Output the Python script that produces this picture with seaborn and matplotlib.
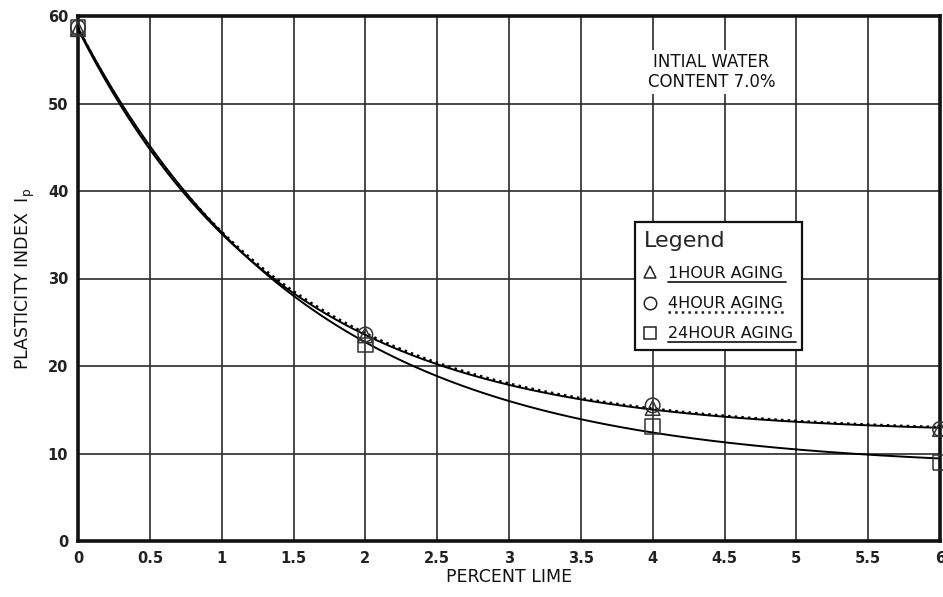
import numpy as np
import pandas as pd
import matplotlib
matplotlib.use("Agg")
import matplotlib.pyplot as plt
from matplotlib.lines import Line2D
import seaborn as sns

# ---- data ----
lime = [0, 2, 4, 6]
pi_1h = [58.5, 23.5, 15.2, 12.8]
pi_4h = [58.7, 23.6, 15.5, 12.8]
pi_24h = [58.7, 22.4, 13.1, 9.0]
series_names = ["1HOUR AGING", "4HOUR AGING", "24HOUR AGING"]
x_ticks = [0, 0.5, 1, 1.5, 2, 2.5, 3, 3.5, 4, 4.5, 5, 5.5, 6]
x_tick_labels = ["0", "0.5", "1", "1.5", "2", "2.5", "3", "3.5", "4", "4.5", "5", "5.5", "6"]
y_ticks = [0, 10, 20, 30, 40, 50, 60]

sns.set_style("white")
plt.rcParams['font.family'] = ['DejaVu Sans']

fig = plt.figure(figsize=(9.43, 5.97), dpi=100)
ax = fig.add_axes([78/943, 1-541/597, (940-78)/943, (541-16)/597])


def fit_decay(x, y):
    x = np.asarray(x, float); y = np.asarray(y, float)
    best = None
    for k in np.linspace(0.1, 2.0, 400):
        e = np.exp(-k * x)
        A = np.vstack([np.ones_like(e), e]).T
        coef, *_ = np.linalg.lstsq(A, y, rcond=None)
        r = np.sum((A @ coef - y) ** 2)
        if best is None or r < best[0]:
            best = (r, k, coef)
    _, k, (c, b) = best
    return lambda t: c + b * np.exp(-k * t)

xs = np.linspace(0, 6, 300)
styles = [("-", 1.4), (":", 1.8), ("-", 1.4)]
markers = ["^", "o", "s"]
datas = [pi_1h, pi_4h, pi_24h]

for name, d, (ls, lw) in zip(series_names, datas, styles):
    f = fit_decay(lime, d)
    df = pd.DataFrame({"x": xs, "y": f(xs)})
    sns.lineplot(data=df, x="x", y="y", ax=ax, color="black", linestyle=ls, linewidth=lw, zorder=3)

for name, d, m in zip(series_names, datas, markers):
    df = pd.DataFrame({"x": lime, "y": d})
    sns.scatterplot(data=df, x="x", y="y", ax=ax, marker=m, s=110, facecolor="none",
                    edgecolor="#333333", linewidth=1.1, zorder=4, clip_on=False)

ax.set_xlim(0, 6)
ax.set_ylim(0, 60)
ax.set_xticks(x_ticks)
ax.set_xticklabels(x_tick_labels, fontsize=10.5, fontweight="bold", color="#222222")
ax.set_yticks(y_ticks)
ax.set_yticklabels([str(v) for v in y_ticks], fontsize=10.5, fontweight="bold", color="#222222")
ax.tick_params(axis="both", direction="out", length=5, width=1.2, color="#222222", pad=2)
ax.grid(True, color="#2a2a2a", linewidth=1.2)
ax.set_axisbelow(True)
for sp in ax.spines.values():
    sp.set_linewidth(2.6)
    sp.set_color("#111111")

ax.set_xlabel("PERCENT LIME", fontsize=12.5, labelpad=2, color="#111111")
ax.set_ylabel("PLASTICITY INDEX  I$_\\mathregular{p}$", fontsize=12.5, labelpad=8, color="#111111")

ax.text(4.41, 53.6, "INTIAL WATER\nCONTENT 7.0%", fontsize=12, ha="center", va="center",
        linespacing=1.1, color="#111111",
        bbox=dict(facecolor="white", edgecolor="none", pad=2), zorder=5)

handles = [Line2D([], [], linestyle="none", marker=m, markersize=9, markerfacecolor="none",
                  markeredgecolor="#222222", markeredgewidth=1.1) for m in markers]
leg = ax.legend(handles, series_names, title="Legend", loc="upper left",
                bbox_to_anchor=((635-78)/862, (541-222)/525), borderaxespad=0,
                frameon=True, fancybox=False,
                edgecolor="#111111", framealpha=1, fontsize=11.5, title_fontsize=16,
                handlelength=0.8, handletextpad=0.7, borderpad=0.55, labelspacing=0.95)
leg._legend_box.align = "left"
leg.get_frame().set_linewidth(1.6)
for t in leg.get_texts():
    t.set_color("#111111")
leg.set_zorder(6)

fig.canvas.draw()
renderer = fig.canvas.get_renderer()
for t, (ls, lw) in zip(leg.get_texts(), styles):
    bb = t.get_window_extent(renderer)
    x0, x1 = bb.x0, bb.x1 + 3
    y = bb.y0 - 1
    ln = Line2D([x0 / fig.dpi / fig.get_figwidth(), x1 / fig.dpi / fig.get_figwidth()],
                [y / fig.dpi / fig.get_figheight()] * 2, transform=fig.transFigure,
                color="#222222", linestyle=ls, linewidth=lw if ls == ":" else 1.3, zorder=10)
    fig.add_artist(ln)

fig.savefig("out.png", dpi=100)
